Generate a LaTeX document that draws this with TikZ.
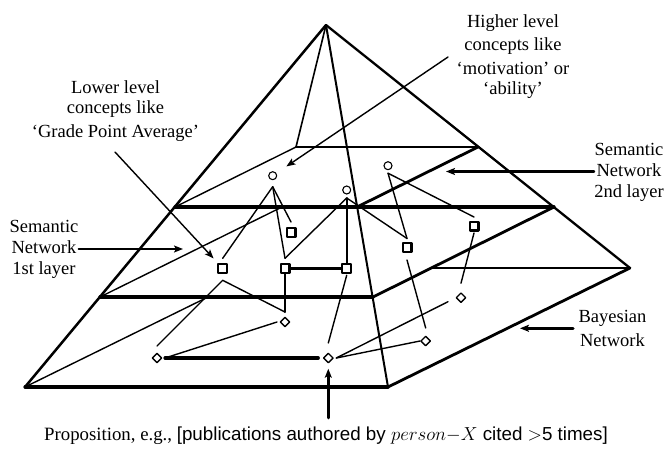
\RequirePackage{fix-cm}
\documentclass[tikz,border=0pt]{standalone}
\usepackage{fontspec}
\setmainfont{Liberation Serif}
\setsansfont{Liberation Sans}
\usetikzlibrary{shapes.geometric,arrows.meta}
\begin{document}
\begin{tikzpicture}[x=1pt,y=-1pt,line join=round,line cap=round,
  thinedge/.style={line width=1.4pt},
  medge/.style={line width=2pt},
  thickedge/.style={line width=3.2pt},
  cnode/.style={circle,draw,fill=white,line width=1.1pt,minimum size=8pt,inner sep=0pt},
  snode/.style={rectangle,draw,fill=white,line width=2.2pt,minimum size=8.8pt,inner sep=0pt},
  dnode/.style={diamond,draw,fill=white,line width=1.4pt,minimum size=10pt,inner sep=0pt},
  lbl/.style={font=\fontsize{18.5}{21}\selectfont,align=center,inner sep=0pt},
  annot/.style={-{Stealth[length=9pt,width=7pt,inset=2pt]}}]
\path[use as bounding box] (0,0) rectangle (667,448);

% pyramid corners
\coordinate (A) at (326,25);
\coordinate (FL) at (25,387);
\coordinate (FR) at (388,387);
\coordinate (BR) at (630,268);
\coordinate (FL1) at (175,207);
\coordinate (FR1) at (357,207);
\coordinate (BR1) at (478,147);
\coordinate (BL1) at (296,147);
\coordinate (FL2) at (100,297);
\coordinate (FR2) at (373,297);
\coordinate (BR2) at (554,207);
\coordinate (BL2) at (282,207);
\coordinate (BX) at (431,268);
\coordinate (LX) at (208,297);

% pyramid edges
\draw[line width=2.5pt] (FL) -- (A);
\draw[line width=2.3pt] (A) -- (BR);
\draw[medge] (A) -- (FR);
\draw[line width=1.6pt] (A) -- (BL1);
% upper cut
\draw[medge] (BL1) -- (BR1);
\draw[line width=2.8pt] (BR1) -- (FR1);
\draw[thickedge] (FL1) -- (FR1);
\draw[thinedge] (FL1) -- (BL1);
% lower cut
\draw[thickedge] (BL2) -- (BR2);
\draw[line width=2.8pt] (BR2) -- (FR2);
\draw[thickedge] (FL2) -- (FR2);
\draw[thinedge] (FL2) -- (BL2);
% base
\draw[thickedge] (FL) -- (FR);
\draw[line width=2.8pt] (FR) -- (BR);
\draw[medge] (BX) -- (BR);
\draw[thinedge] (FL) -- (LX);

% concept nodes
\node[cnode] (C1) at (272.7,175.7) {};
\node[cnode] (C2) at (346.7,190) {};
\node[cnode] (C3) at (388,165.7) {};
\node[snode] (S1) at (291,232.5) {};
\node[snode] (S2) at (222.7,268.3) {};
\node[snode] (S3) at (285,268.3) {};
\node[snode] (S4) at (346.7,268.3) {};
\node[snode] (S5) at (407,247.5) {};
\node[snode] (S6) at (474,226) {};
\node[dnode] (D1) at (157,358) {};
\node[dnode] (D2) at (285,322) {};
\node[dnode] (D3) at (328.3,358) {};
\node[dnode] (D4) at (425.7,341) {};
\node[dnode] (D5) at (461,297.7) {};

% network links
\draw[thinedge] ([yshift=-11pt]C1.center) -- ([yshift=10pt]S2.center);
\draw[thinedge] ([yshift=-11pt]C1.center) -- ([yshift=10pt]S3.center);
\draw[thinedge] ([yshift=-11pt]C1.center) -- ([yshift=10.5pt]S1.center);
\draw[thinedge] ([yshift=-8pt]C2.center) -- ([yshift=10pt]S3.center);
\draw[medge] ([yshift=-8pt]C2.center) -- (S4.north);
\draw[thinedge] ([yshift=-8pt]C2.center) -- ([yshift=9pt]S5.center);
\draw[thinedge] ([yshift=-7.5pt]C3.center) -- ([yshift=9pt]S5.center);
\draw[thinedge] ([yshift=-7.5pt]C3.center) -- ([yshift=9pt]S6.center);
\draw[thickedge,line cap=butt] (S3.east) -- (S4.west);
\draw[thinedge] ([yshift=-12pt]S2.center) -- ([yshift=12pt]D1.center);
\draw[thinedge] ([yshift=-12pt]S2.center) -- ([yshift=10pt]D2.center);
\draw[medge] (S3.south) -- ([yshift=10pt]D2.center);
\draw[thinedge] ([xshift=-8pt]D2.center) -- ([xshift=8pt]D1.center);
\draw[thickedge] ([xshift=8pt]D1.center) -- ([xshift=-10pt]D3.center);
\draw[thinedge] ([yshift=-7pt]S4.center) -- ([yshift=15pt]D3.center);
\draw[thinedge] ([xshift=8pt]D3.center) -- (D4.west);
\draw[thinedge] ([xshift=8pt]D3.center) -- ([shift={(-13pt,-4pt)}]D5.center);
\draw[thinedge] ([yshift=-12.5pt]S5.center) -- ([yshift=13pt]D4.center);
\draw[thinedge] ([yshift=-7pt]S6.center) -- ([yshift=14.5pt]D5.center);

% labels
\node[lbl,font=\fontsize{18.5}{20}\selectfont] (lowlbl) at (115.5,111) {Lower level\\concepts like\\[4pt]`Grade Point Average'};
\node[lbl,font=\fontsize{18.5}{23.5}\selectfont] (highlbl) at (513,56.3) {Higher level\\concepts like\\`motivation' or\\[-3.5pt]`ability'};
\node[lbl] (sem2) at (629,172) {Semantic\\Network\\2nd layer};
\node[lbl] (sem1) at (44,249.7) {Semantic\\Network\\1st layer};
\node[lbl,font=\fontsize{18.5}{24.5}\selectfont] (bayes) at (612.5,328.5) {Bayesian\\Network};
\node[lbl,anchor=base,font=\fontsize{18.8}{22}\selectfont] (prop) at (326,440.7) {Proposition, e.g., {\sffamily [publications authored by $person{-}X$ cited $>$5 times]}};

% annotation arrows
\coordinate (lowtail) at (115,152);
\draw[thinedge,annot,shorten >=6pt] (lowtail) -- (S2);
\coordinate (hightail) at (448,57);
\draw[thinedge,annot,shorten >=12pt] (hightail) -- (C1);
\coordinate (l2tip) at (446,171.5);
\draw[line width=2.2pt,annot] (sem2.west |- l2tip) -- (l2tip);
\coordinate (l1tip) at (183,249);
\draw[line width=2.2pt,annot] (sem1.east |- l1tip) -- (l1tip);
\coordinate (btail) at (573,328.3);
\coordinate (btip) at (520,328.3);
\draw[line width=3.2pt,annot] (btail) -- (btip);
\coordinate (ptail) at (328.3,418);
\draw[line width=2.8pt,annot,shorten >=5pt] (ptail) -- (D3.south);
\end{tikzpicture}
\end{document}
